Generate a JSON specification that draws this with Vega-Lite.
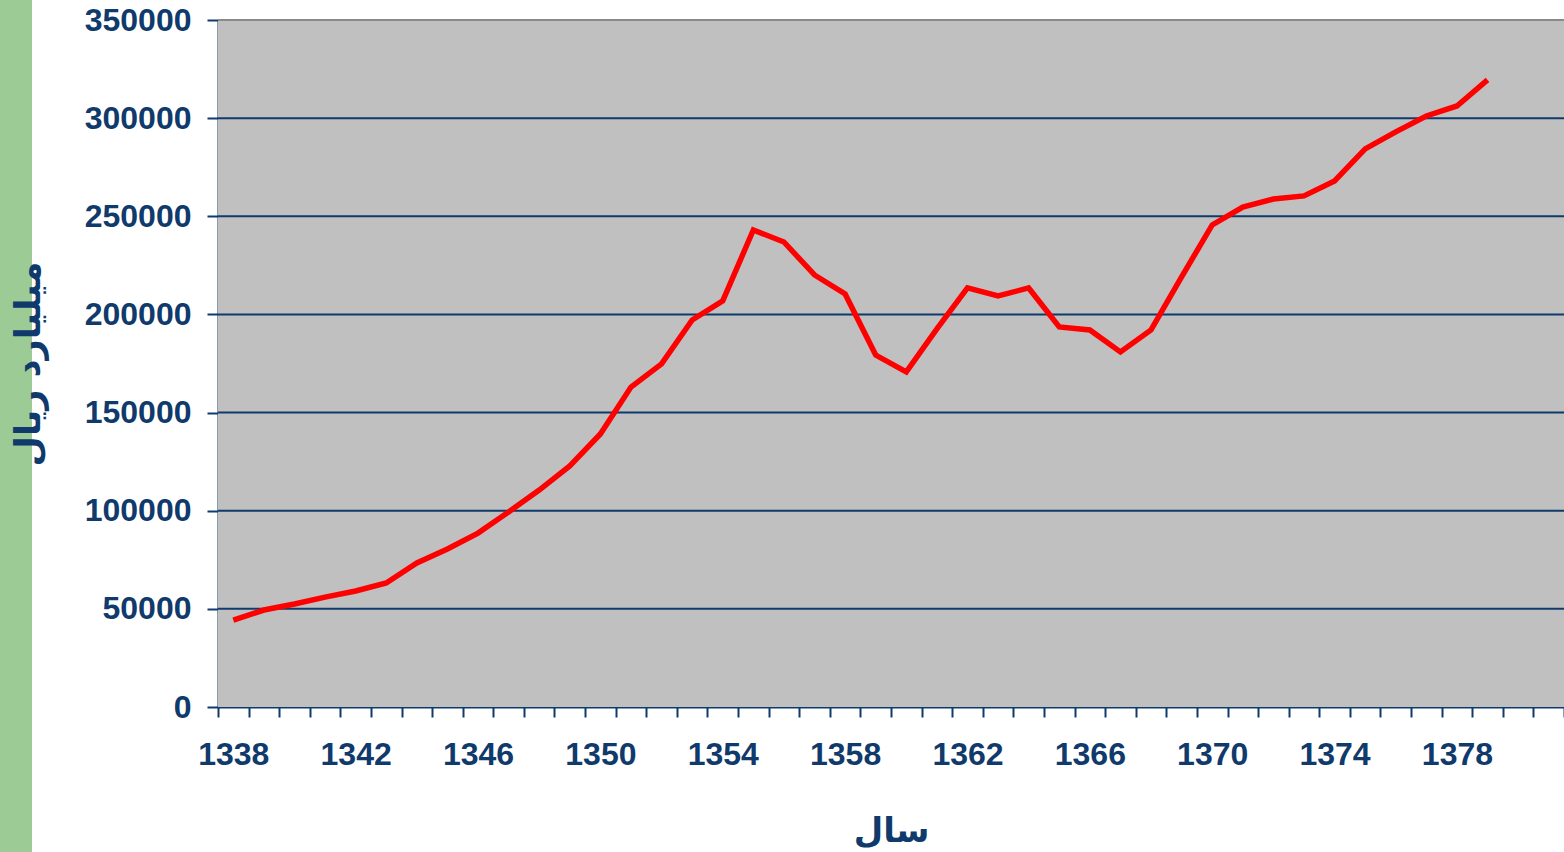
{
  "$schema": "https://vega.github.io/schema/vega-lite/v6.json",
  "padding": 0,
  "background": "white",
  "bounds": "flush",
  "spacing": 186,
  "config": {"view": {"stroke": null}},
  "hconcat": [
    {
      "width": 32,
      "height": 852,
      "view": {"fill": "#9ccb96", "stroke": null},
      "data": {"values": [{}]},
      "mark": {"type": "text", "text": ""},
      "encoding": {}
    },
    {
      "width": 1346,
      "height": 707,
      "view": {"fill": null, "stroke": null},
      "layer": [
        {
          "data": {"values": [{}]},
          "mark": {"type": "rect", "color": "#c0c0c0"},
          "encoding": {
            "y": {"datum": 0, "type": "quantitative", "scale": {"domain": [0, 350000], "range": [707, 20], "nice": false, "zero": true},
              "axis": {
                "values": [0, 50000, 100000, 150000, 200000, 250000, 300000, 350000],
                "format": "d",
                "grid": false,
                "domain": true, "domainColor": "#0f3a6b", "domainWidth": 2,
                "ticks": true, "tickColor": "#0f3a6b", "tickWidth": 2, "tickSize": 11,
                "labelFont": "Liberation Sans", "labelFontWeight": "bold", "labelFontSize": 32, "labelColor": "#0f3a6b", "labelPadding": 16,
                "title": "میلیارد ریال", "titleFont": "DejaVu Sans", "titleFontWeight": "bold", "titleFontSize": 35, "titleColor": "#0f3a6b", "titlePadding": 38
              }
            },
            "y2": {"datum": 350000}
          }
        },
        {
          "data": {"values": [{"g": 50000}, {"g": 100000}, {"g": 150000}, {"g": 200000}, {"g": 250000}, {"g": 300000}]},
          "mark": {"type": "rule", "color": "#0f3a6b", "strokeWidth": 2},
          "encoding": {"y": {"field": "g", "type": "quantitative"}}
        },
        {
          "data": {"values": [{}]},
          "mark": {"type": "rule", "color": "#8a8a8a", "strokeWidth": 2},
          "encoding": {"y": {"datum": 350000, "type": "quantitative"}}
        },
        {
          "data": {"values": [
            {"year": 1338, "value": 44300},
            {"year": 1339, "value": 49400},
            {"year": 1340, "value": 52500},
            {"year": 1341, "value": 56000},
            {"year": 1342, "value": 59100},
            {"year": 1343, "value": 63200},
            {"year": 1344, "value": 73400},
            {"year": 1345, "value": 80500},
            {"year": 1346, "value": 88600},
            {"year": 1347, "value": 99400},
            {"year": 1348, "value": 110500},
            {"year": 1349, "value": 122800},
            {"year": 1350, "value": 139100},
            {"year": 1351, "value": 163000},
            {"year": 1352, "value": 174800},
            {"year": 1353, "value": 197200},
            {"year": 1354, "value": 206900},
            {"year": 1355, "value": 243000},
            {"year": 1356, "value": 236900},
            {"year": 1357, "value": 220100},
            {"year": 1358, "value": 210400},
            {"year": 1359, "value": 179300},
            {"year": 1360, "value": 170700},
            {"year": 1361, "value": 192600},
            {"year": 1362, "value": 213500},
            {"year": 1363, "value": 209400},
            {"year": 1364, "value": 213500},
            {"year": 1365, "value": 193600},
            {"year": 1366, "value": 192100},
            {"year": 1367, "value": 180900},
            {"year": 1368, "value": 192100},
            {"year": 1369, "value": 219100},
            {"year": 1370, "value": 245600},
            {"year": 1371, "value": 254700},
            {"year": 1372, "value": 258800},
            {"year": 1373, "value": 260400},
            {"year": 1374, "value": 268000},
            {"year": 1375, "value": 284300},
            {"year": 1376, "value": 293000},
            {"year": 1377, "value": 301100},
            {"year": 1378, "value": 306200},
            {"year": 1379, "value": 319500}
          ]},
          "mark": {"type": "line", "color": "#ff0000", "strokeWidth": 5.5},
          "encoding": {
            "x": {"field": "year", "type": "ordinal", "bandPosition": 0.5,
              "scale": {"type": "band", "paddingInner": 0, "paddingOuter": 0,
                "domain": [1338,1339,1340,1341,1342,1343,1344,1345,1346,1347,1348,1349,1350,1351,1352,1353,1354,1355,1356,1357,1358,1359,1360,1361,1362,1363,1364,1365,1366,1367,1368,1369,1370,1371,1372,1373,1374,1375,1376,1377,1378,1379,1380,1381]},
              "axis": {
                "tickBand": "extent",
                "labelAngle": 0,
                "labelOverlap": false,
                "labelExpr": "(datum.value - 1338) % 4 == 0 ? datum.label : ''",
                "domain": true, "domainColor": "#0f3a6b", "domainWidth": 2,
                "ticks": true, "tickColor": "#0f3a6b", "tickWidth": 2, "tickSize": 10,
                "labelFont": "Liberation Sans", "labelFontWeight": "bold", "labelFontSize": 32, "labelColor": "#0f3a6b", "labelPadding": 22,
                "title": "سال", "titleFont": "DejaVu Sans", "titleFontWeight": "bold", "titleFontSize": 34, "titleColor": "#0f3a6b", "titlePadding": 44
              }
            },
            "y": {"field": "value", "type": "quantitative"}
          }
        }
      ]
    }
  ]
}
